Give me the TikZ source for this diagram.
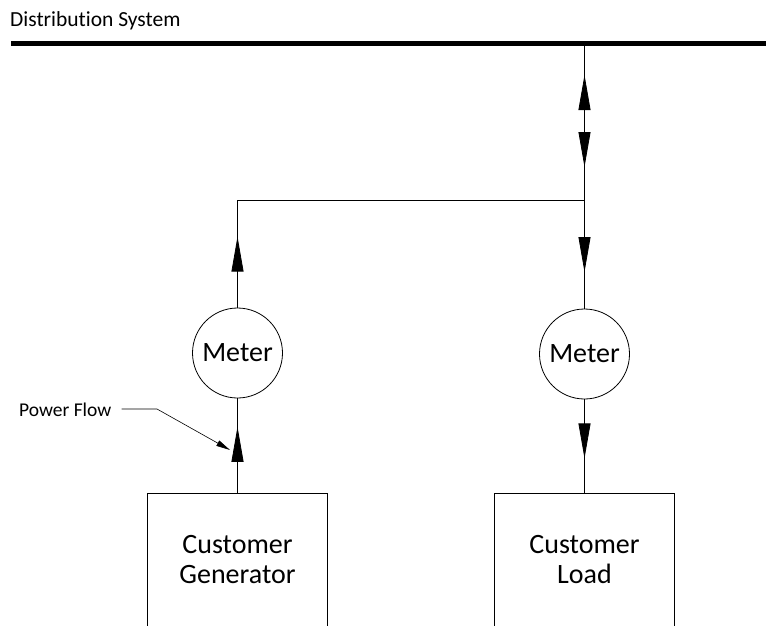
\documentclass[tikz,border=0pt]{standalone}
\usepackage{fontspec}
\setmainfont{Carlito}[Ligatures={NoCommon}]
\usetikzlibrary{arrows.meta,decorations.markings}

\tikzset{
  bigtip/.tip={Triangle[length=35pt,width=12pt]},
  fwd/.style={postaction={decorate,decoration={markings,mark=at position #1 with {\arrow{bigtip}}}}},
  rev/.style={postaction={decorate,decoration={markings,mark=at position #1 with {\arrowreversed{bigtip}}}}},
  wire/.style={line width=0.8pt},
  meter/.style={draw, circle, wire, minimum size=90pt, inner sep=0pt, font=\fontsize{28}{30}\selectfont},
  unit/.style={minimum width=179pt, minimum height=132pt, align=center, font=\fontsize{28}{30}\selectfont}
}

\begin{document}
\begin{tikzpicture}[x=1pt, y=-1pt]
      \useasboundingbox (0,0) rectangle (766,626);
      % bus
      \node[anchor=base west, inner sep=0pt, font=\fontsize{21.5}{24}\selectfont] (dist) at (10,27) {Distribution System};
      \coordinate (busW) at (11,44);
      \coordinate (busE) at (766,44);
      \coordinate (tap) at (584.5,44);
      \coordinate (j) at (584.5,200);
      \draw[line width=5pt] (busW) -- (busE);

      \node[meter] (mG) at (237.5,353) {Meter};
      \node[meter] (mL) at (584.5,354) {Meter};
      \node[unit] (gen) at (237.5,560) {Customer\\Generator};
      \node[unit] (load) at (584.5,560) {Customer\\Load};
      \draw[wire] (gen.south west) |- (gen.north) -| (gen.south east);
      \draw[wire] (load.south west) |- (load.north) -| (load.south east);

      \draw[wire, rev=31pt, fwd=123pt, fwd=228pt] (tap) -- (mL);
      \draw[wire, fwd=71pt] (mG) |- (j);
      \draw[wire, fwd=67pt] (gen.north) -- (mG);
      \draw[wire, fwd=59pt] (mL) -- (load.north);

      % label
      \node[anchor=base west, inner sep=0pt, font=\fontsize{19.5}{22}\selectfont] (flow) at (19,416) {Power Flow};
      \coordinate (bend) at (157,409);
      \coordinate (flowtip) at (230,450);
      \draw[line width=0.6pt, -{Triangle[length=14pt,width=6pt]}, shorten <=10pt] (flow.east |- bend) -- (bend) -- (flowtip);
    \end{tikzpicture}
\end{document}
